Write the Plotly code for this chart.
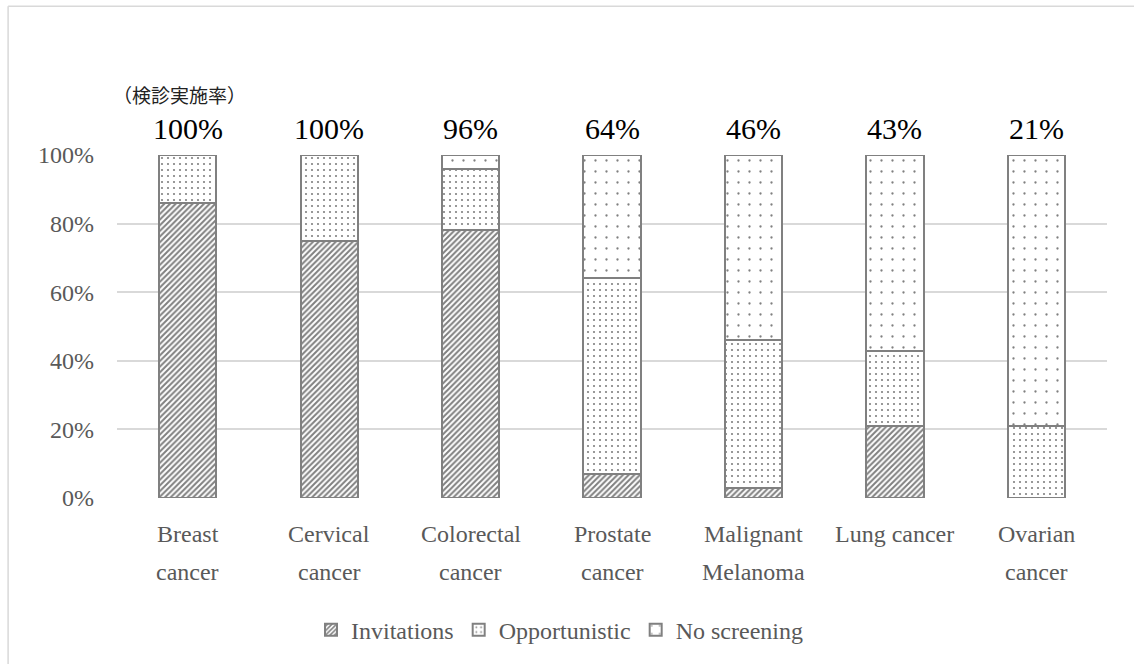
import plotly.graph_objects as go

# Screening participation by cancer type (percent of respondents)
categories = ["Breast\ncancer", "Cervical\ncancer", "Colorectal\ncancer", "Prostate\ncancer",
              "Malignant\nMelanoma", "Lung cancer", "Ovarian\ncancer"]
invitations = [86, 75, 78, 7, 3, 21, 0]
opportunistic = [14, 25, 18, 57, 43, 22, 21]
no_screening = [0, 0, 4, 36, 54, 57, 79]
screening_rate = [100, 100, 96, 64, 46, 43, 21]  # invitations + opportunistic
y_ticks = [0, 0.2, 0.4, 0.6, 0.8, 1.0]
y_tick_text = ["0%", "20%", "40%", "60%", "80%", "100%"]

x_keys = [c.replace("\n", " ") for c in categories]

SERIF = "Liberation Serif"
GRAY_TXT = "#595959"
EDGE = "#808080"
GRID = "#d9d9d9"

series = [
    ("Invitations", invitations, dict(shape="/", size=4, solidity=0.5)),
    ("Opportunistic", opportunistic, dict(shape=".", size=6, solidity=0.1)),
    ("No screening", no_screening, dict(shape=".", size=11, solidity=0.035)),
]

fig = go.Figure()
for name, vals, pat in series:
    fig.add_trace(go.Bar(
        x=x_keys,
        y=[v / 100 for v in vals],
        name=name,
        marker=dict(
            color="white",
            line=dict(color=EDGE, width=2),
            pattern=dict(fgcolor=EDGE, bgcolor="white", fillmode="replace", **pat),
        ),
        hoverinfo="skip",
    ))

annotations = []
# Screening rate above each bar
for key, rate in zip(x_keys, screening_rate):
    annotations.append(dict(
        x=key, y=1.0, xref="x", yref="y", text=f"{rate}%", showarrow=False,
        yanchor="middle", yshift=27, font=dict(family=SERIF, size=30, color="#000000"),
    ))
# Two-line category labels under the axis
for key, cat in zip(x_keys, categories):
    for i, line in enumerate(cat.split("\n")):
        annotations.append(dict(
            x=key, y=0, xref="x", yref="y", text=line, showarrow=False,
            yanchor="middle", yshift=-36 - 38 * i,
            font=dict(family=SERIF, size=24, color=GRAY_TXT),
        ))
annotations.append(dict(
    x=-0.006, y=1.175, xref="paper", yref="paper", text="（検診実施率）", showarrow=False,
    xanchor="left", yanchor="middle",
    font=dict(family="Noto Sans CJK JP", size=19, color="#222222"),
))

# Light frame lines along the top and left of the chart area
fig.add_shape(type="line", xref="paper", yref="paper",
              x0=-0.110, x1=1.3, y0=1.434, y1=1.434,
              line=dict(color=GRID, width=1.5), layer="below")
fig.add_shape(type="line", xref="paper", yref="paper",
              x0=-0.110, x1=-0.110, y0=-0.8, y1=1.434,
              line=dict(color=GRID, width=1.5), layer="below")

fig.update_layout(
    width=1134, height=664,
    margin=dict(l=117, r=27, t=155, b=166),
    barmode="stack",
    bargap=0.595,
    plot_bgcolor="white",
    paper_bgcolor="white",
    showlegend=True,
    legend=dict(
        orientation="h", x=0.447, xanchor="center", y=-0.385, yanchor="middle",
        font=dict(family=SERIF, size=24, color=GRAY_TXT),
        itemwidth=30, traceorder="normal",
    ),
    annotations=annotations,
    xaxis=dict(showticklabels=False, showgrid=False, ticks="", showline=False, zeroline=False),
    yaxis=dict(
        range=[0, 1], tickvals=y_ticks, ticktext=y_tick_text,
        showgrid=True, gridcolor=GRID, gridwidth=1.5,
        zeroline=False, showline=False, ticks="",
        tickfont=dict(family=SERIF, size=24, color=GRAY_TXT),
        ticklabelstandoff=22,
    ),
)

fig.write_html("out.html")
